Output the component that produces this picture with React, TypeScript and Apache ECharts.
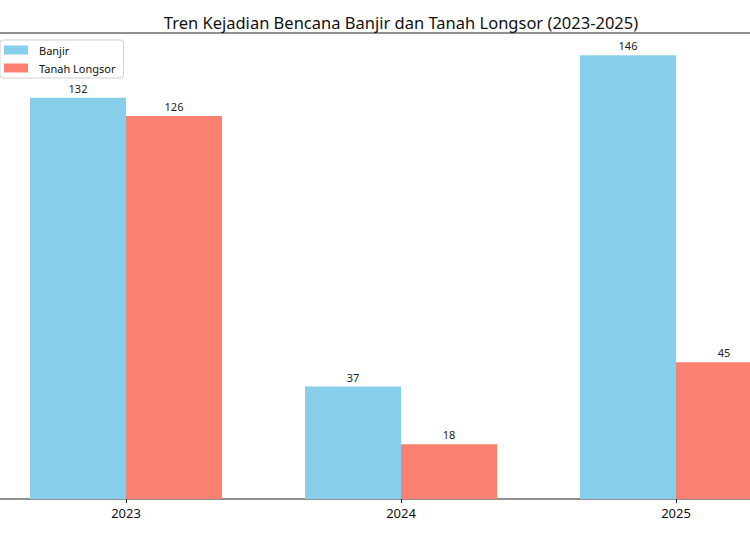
import React, { useEffect, useRef } from "react";
import * as echarts from "echarts";

const categories = ["2023", "2024", "2025"];
const banjir = [132, 37, 146];
const longsor = [126, 18, 45];
const seriesNames = ["Banjir", "Tanah Longsor"];
const titleText = "Tren Kejadian Bencana Banjir dan Tanah Longsor (2023-2025)";

export default function App() {
  const ref = useRef<HTMLDivElement>(null);
  useEffect(() => {
    if (!ref.current) return;
    const chart = echarts.init(ref.current, undefined, { renderer: "svg" });
    const font = "'Noto Sans', Roboto, sans-serif";
    chart.setOption({
      animation: false,
      title: {
        text: titleText,
        left: "center",
        top: 9,
        textStyle: { fontFamily: font, fontSize: 16.5, fontWeight: "normal", color: "#111" },
      },
      legend: {
        orient: "vertical",
        left: 20,
        top: 40,
        icon: "rect",
        itemWidth: 24,
        itemHeight: 9,
        itemGap: 6,
        padding: [4, 8, 4, 4],
        borderColor: "#d0d0d0",
        borderWidth: 1,
        borderRadius: 3,
        backgroundColor: "rgba(255,255,255,0.8)",
        textStyle: { fontFamily: font, fontSize: 11, color: "#111", lineHeight: 12, padding: [0, 0, 0, 6] },
        data: seriesNames,
      },
      grid: {
        left: 8.5,
        width: 825,
        top: 33,
        bottom: 37,
        show: true,
        borderColor: "#222",
        borderWidth: 1,
        backgroundColor: "transparent",
      },
      xAxis: {
        type: "category",
        data: categories,
        axisLine: { show: false },
        axisTick: { show: true, alignWithLabel: true, length: 4, lineStyle: { color: "#222" } },
        axisLabel: { fontFamily: font, fontSize: 13, color: "#111", margin: 7 },
      },
      yAxis: {
        type: "value",
        min: 0,
        max: 153.3,
        show: false,
        splitLine: { show: false },
      },
      series: [
        {
          name: seriesNames[0],
          type: "bar",
          data: banjir,
          barWidth: 96,
          barGap: "0%",
          itemStyle: { color: "#87CEEB" },
          label: { show: true, position: "top", distance: 4, fontFamily: font, fontSize: 11, color: "#222" },
        },
        {
          name: seriesNames[1],
          type: "bar",
          data: longsor,
          barWidth: 96,
          barGap: "0%",
          itemStyle: { color: "#FA8072" },
          label: { show: true, position: "top", distance: 4, fontFamily: font, fontSize: 11, color: "#222" },
        },
      ],
    });
    return () => chart.dispose();
  }, []);
  return (
    <div style={{ position: "fixed", left: 0, top: 0, width: 750, height: 536, overflow: "hidden", background: "#fff" }}>
      <div ref={ref} style={{ position: "absolute", left: -20, top: 0, width: 842, height: 536 }} />
    </div>
  );
}
